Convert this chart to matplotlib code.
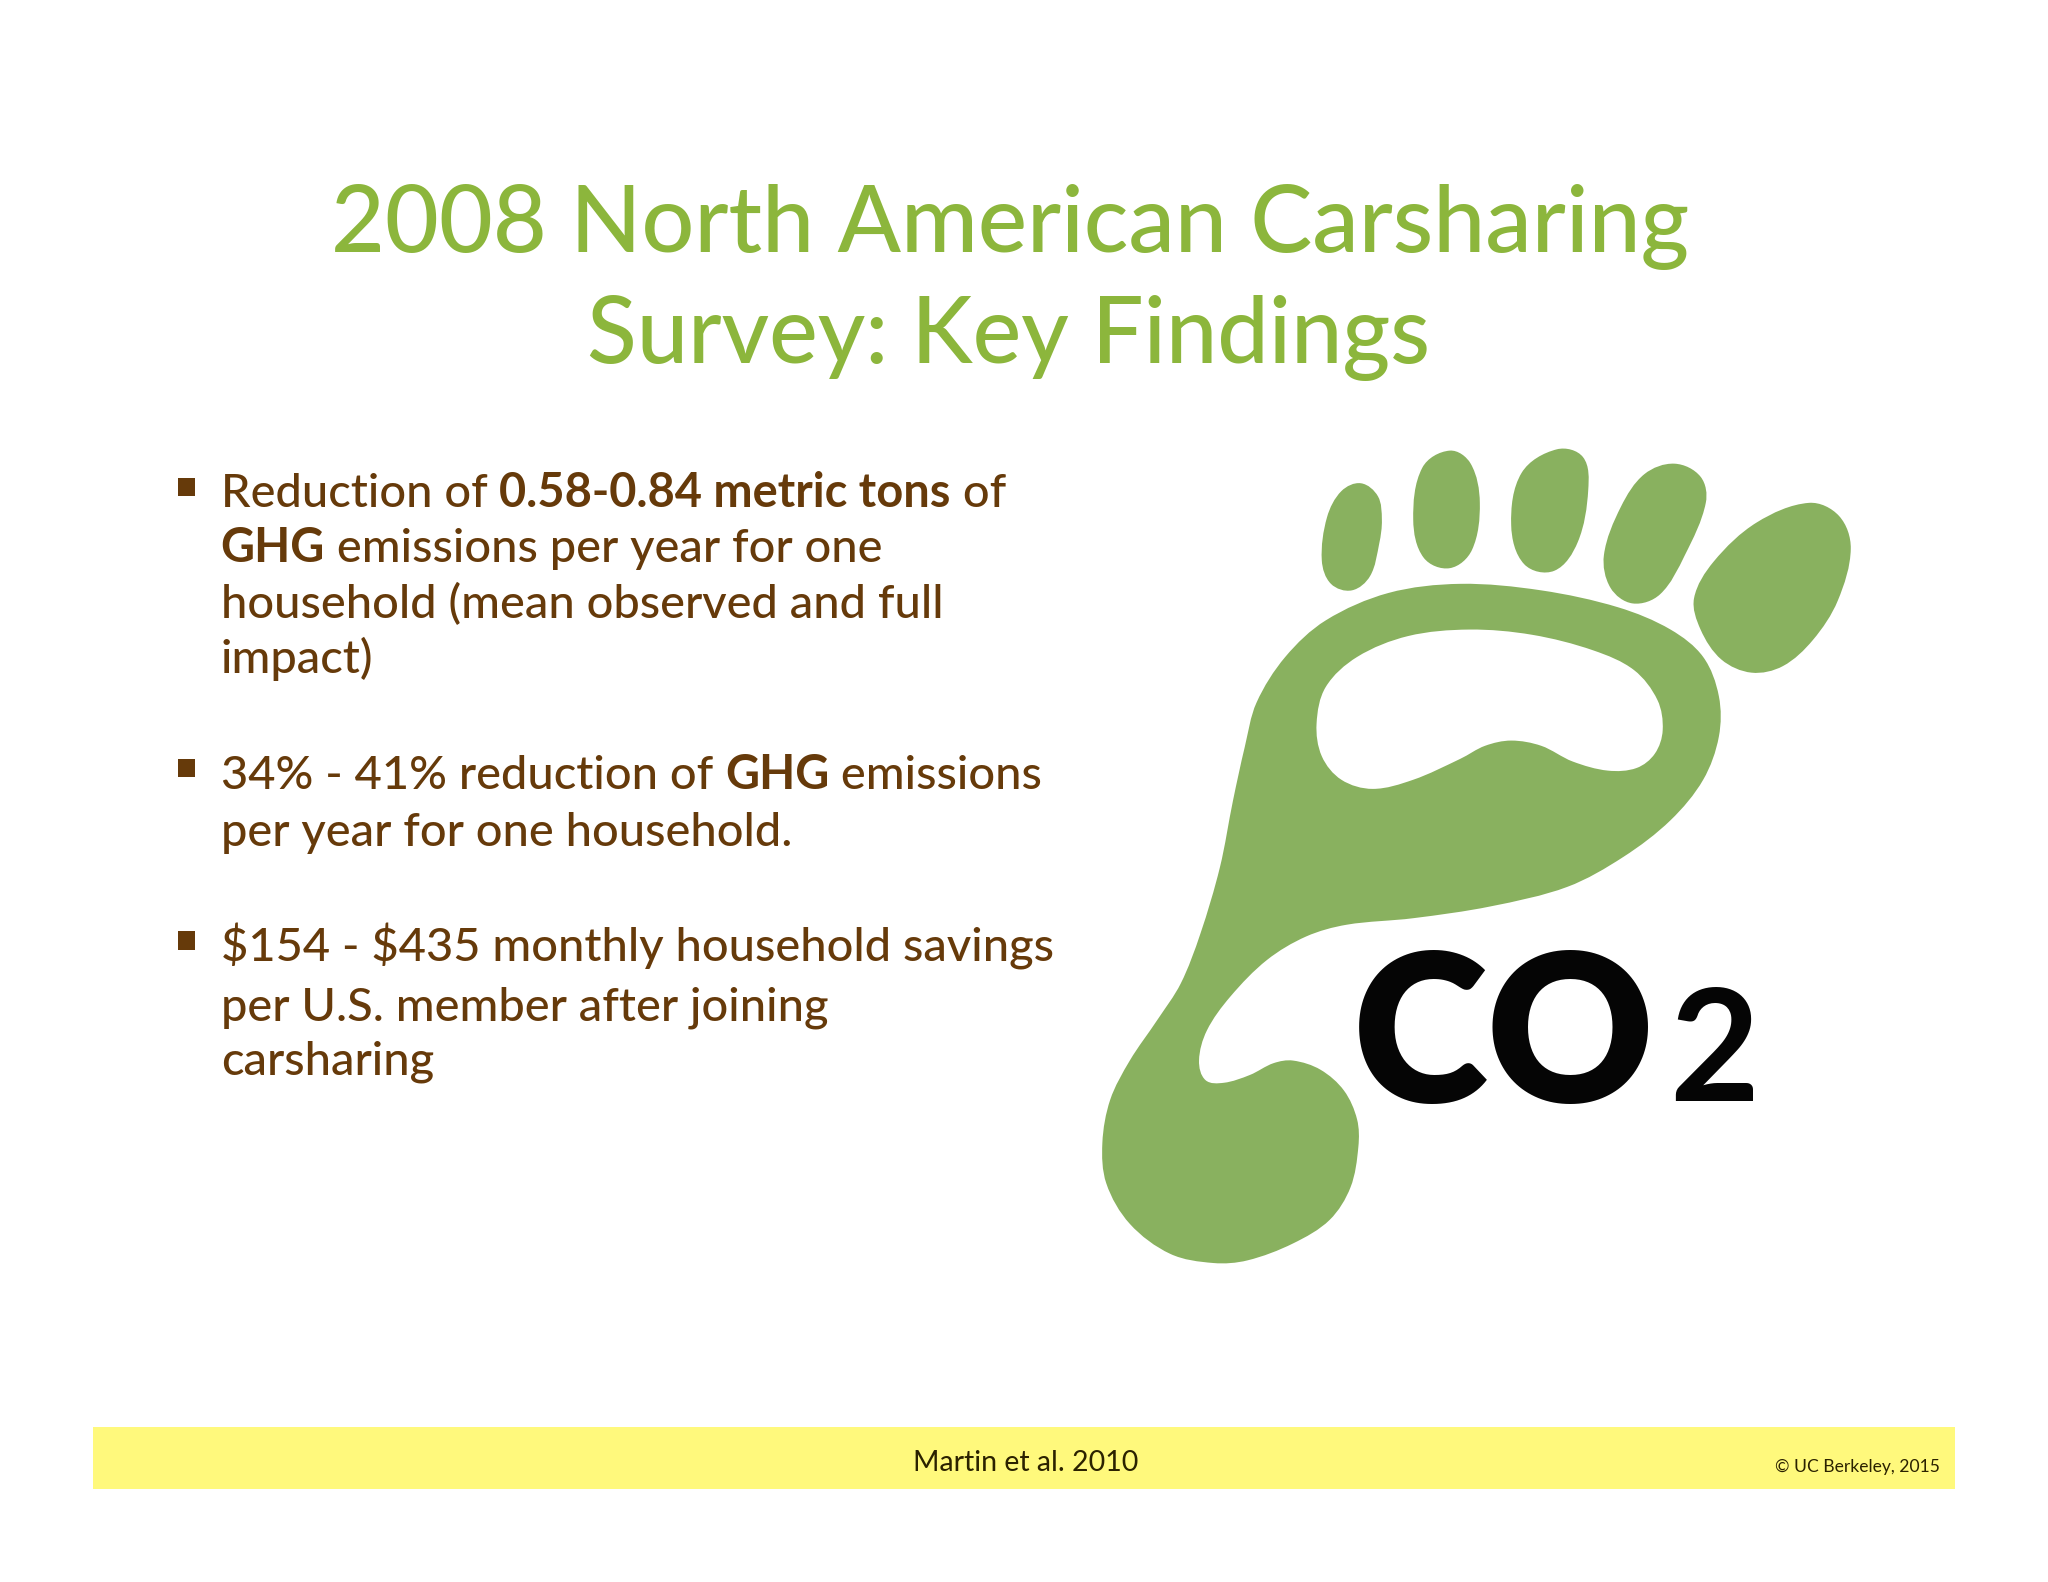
#! /usr/bin/env python

import matplotlib
matplotlib.use("Agg")
import matplotlib.pyplot as plt
import numpy as np
from matplotlib.patches import PathPatch, Rectangle
from matplotlib.path import Path

title_lines = ["2008 North American Carsharing", "Survey: Key Findings"]

bullet_lines = [
    [("Reduction of ", False), ("0.58-0.84 metric tons", True), (" of", False)],
    [("GHG", True), (" emissions per year for one", False)],
    [("household (mean observed and full", False)],
    [("impact)", False)],
    [("34% - 41% reduction of ", False), ("GHG", True), (" emissions", False)],
    [("per year for one household.", False)],
    [("\\$154 - \\$435 monthly household savings", False)],
    [("per U.S. member after joining", False)],
    [("carsharing", False)],
]
line_baselines = [388, 430, 473, 515, 604, 648, 736, 781, 823]
bullet_rows = [373, 588, 720]

source_text = "Martin et al. 2010"
credit_text = "© UC Berkeley, 2015"

# outline of the foot, in reference pixels
foot_outer = [(1118, 447), (1180, 452), (1239, 465), (1279, 482), (1304, 503),
              (1316, 533), (1316, 564), (1304, 597), (1279, 628), (1243, 656),
              (1200, 679), (1141, 694), (1082, 703), (1031, 708), (1000, 717),
              (970, 735), (942, 763), (924, 789), (918, 812), (923, 827),
              (937, 829), (957, 823), (975, 814), (990, 812), (1011, 819),
              (1029, 835), (1039, 857), (1040, 878), (1034, 909), (1018, 934),
              (990, 952), (955, 965), (929, 967), (896, 960), (865, 937),
              (847, 906), (844, 875), (850, 842), (865, 812), (886, 781),
              (904, 753), (919, 715), (934, 664), (944, 613), (953, 572),
              (962, 538), (984, 503), (1015, 475), (1063, 454)]
foot_hole = [(1125, 482), (1078, 487), (1039, 503), (1015, 526), (1008, 554),
             (1012, 579), (1027, 597), (1051, 604), (1082, 597), (1118, 581),
             (1137, 571), (1157, 567), (1180, 571), (1204, 583), (1231, 590),
             (1253, 588), (1267, 577), (1273, 559), (1269, 536), (1251, 513),
             (1220, 498), (1173, 486)]
toe_1 = [(1042, 370), (1055, 380), (1058, 398), (1056, 416), (1049, 441), (1035, 452),
         (1019, 447), (1012, 429), (1016, 396), (1027, 376)]
toe_2 = [(1110, 345), (1126, 355), (1133, 385), (1127, 421), (1110, 435),
         (1090, 427), (1082, 398), (1089, 358)]
toe_3 = [(1192, 344), (1212, 350), (1216, 375), (1208, 415), (1190, 437),
         (1167, 432), (1157, 402), (1165, 362)]
toe_4 = [(1282, 355), (1302, 365), (1306, 385), (1290, 425), (1271, 455),
         (1250, 462), (1233, 450), (1228, 425), (1241, 388), (1259, 363)]
toe_5 = [(1385, 385), (1408, 395), (1417, 420), (1407, 460), (1388, 490),
         (1365, 510), (1341, 515), (1318, 505), (1302, 482), (1297, 458),
         (1312, 430), (1345, 400)]

W, H = 1568.0, 1568.0 * 1582 / 2048
PX = W / 2048

GREEN = "#8cb63c"
BROWN = "#663a0a"
FOOT = "#89b15f"
YELLOW = "#fff97c"
FONT = "Lato"


def smooth_closed(points):
    # closed spline as bezier pieces, handle length follows the segment length
    p = np.array(points, dtype=float)
    n = len(p)
    tang = np.roll(p, -1, axis=0) - np.roll(p, 1, axis=0)
    tang = tang / np.linalg.norm(tang, axis=1, keepdims=True)
    verts = [p[0]]
    codes = [Path.MOVETO]
    for i in range(n):
        j = (i + 1) % n
        d = np.linalg.norm(p[j] - p[i]) / 3
        verts += [p[i] + tang[i] * d, p[j] - tang[j] * d, p[j]]
        codes += [Path.CURVE4] * 3
    return verts, codes


fig = plt.figure(figsize=(20.48, 15.82), dpi=100, facecolor="white")
ax = fig.add_axes([0, 0, 1, 1])
ax.set_xlim(0, W)
ax.set_ylim(H, 0)
ax.axis("off")
renderer = fig.canvas.get_renderer()

ax.text(773, 193, title_lines[0], color=GREEN, fontsize=67, family=FONT,
        weight="medium", ha="center", va="baseline")
ax.text(772, 278, title_lines[1], color=GREEN, fontsize=66, family=FONT,
        weight="medium", ha="center", va="baseline")

for runs, base in zip(bullet_lines, line_baselines):
    x = 169
    for text, bold in runs:
        t = ax.text(x, base, text, color=BROWN, fontsize=33.8, family=FONT,
                    weight="bold" if bold else "medium", va="baseline")
        x += t.get_window_extent(renderer).width * PX

for y in bullet_rows:
    ax.add_patch(Rectangle((136, y - 7), 13, 14, color=BROWN, lw=0))

# footprint
v1, c1 = smooth_closed(foot_outer)
v2, c2 = smooth_closed(foot_hole)
ax.add_patch(PathPatch(Path(np.array(v1 + v2), c1 + c2), facecolor=FOOT, lw=0))
for toe in [toe_1, toe_2, toe_3, toe_4, toe_5]:
    v, c = smooth_closed(toe)
    ax.add_patch(PathPatch(Path(np.array(v), c), facecolor=FOOT, lw=0))

ax.text(1036, 844, "CO", color="#050505", fontsize=148, family=FONT, weight="heavy",
        va="baseline", ha="left")
ax.text(1278, 843, "2", color="#050505", fontsize=112, family=FONT, weight="bold",
        va="baseline", ha="left")

# footer band
ax.add_patch(Rectangle((71, 1092.5), 1426, 47.5, color=YELLOW, lw=0))
ax.text(785, 1126, source_text, color="#2b2200", fontsize=20.5, family=FONT,
        ha="center", va="baseline")
ax.text(1485, 1127, credit_text, color="#2b2200", fontsize=12.6, family=FONT,
        ha="right", va="baseline")

plt.savefig("out.png", dpi=100)
